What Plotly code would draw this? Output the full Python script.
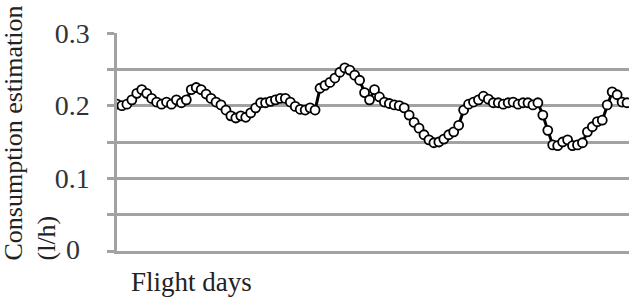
import plotly.graph_objects as go

# Consumption estimation (l/h) per flight day
consumption = [
    0.202, 0.200, 0.202, 0.208, 0.217, 0.222, 0.217, 0.210, 0.205, 0.202,
    0.205, 0.202, 0.208, 0.204, 0.208, 0.222, 0.225, 0.222, 0.216, 0.210,
    0.205, 0.201, 0.194, 0.186, 0.183, 0.186, 0.184, 0.190, 0.197, 0.204,
    0.204, 0.206, 0.208, 0.210, 0.210, 0.205, 0.199, 0.195, 0.194, 0.197,
    0.194, 0.224, 0.228, 0.232, 0.238, 0.246, 0.252, 0.249, 0.242, 0.235,
    0.218, 0.208, 0.222, 0.212, 0.205, 0.203, 0.201, 0.200, 0.197, 0.187,
    0.177, 0.169, 0.160, 0.153, 0.149, 0.150, 0.154, 0.160, 0.164, 0.173,
    0.194, 0.202, 0.205, 0.208, 0.213, 0.209, 0.204, 0.204, 0.202, 0.204,
    0.205, 0.202, 0.204, 0.204, 0.201, 0.204, 0.187, 0.166, 0.146, 0.145,
    0.150, 0.153, 0.145, 0.146, 0.149, 0.164, 0.171, 0.178, 0.180, 0.201,
    0.219, 0.215, 0.205, 0.204,
]
days = list(range(1, len(consumption) + 1))

y_tick_vals = [0, 0.05, 0.1, 0.15, 0.2, 0.25, 0.3]
y_tick_text = ["", "", "0.1", "", "0.2", "", "0.3"]
zero_label = "0"

serif = "Liberation Serif, Times New Roman, serif"
grid = "#a2a2a2"
fs = 28

fig = go.Figure()
fig.add_trace(go.Scatter(
    x=days, y=consumption, mode="lines+markers",
    line=dict(color="black", width=3),
    marker=dict(symbol="circle", size=9, color="white",
                line=dict(color="black", width=1.8)),
    showlegend=False,
))

fig.update_layout(
    width=629, height=299,
    margin=dict(l=117, r=0, t=33, b=48),
    paper_bgcolor="white", plot_bgcolor="white",
    font=dict(family=serif, color="#222", size=fs),
    xaxis=dict(range=[days[0], days[-1] + 0.4], showgrid=False,
               showticklabels=False, zeroline=False,
               showline=True, linecolor=grid, linewidth=2.5),
    yaxis=dict(range=[0, 0.3], tickvals=y_tick_vals, ticktext=y_tick_text,
               showgrid=True, gridcolor=grid, gridwidth=2.5,
               zeroline=False, showline=True, linecolor=grid, linewidth=2.5,
               ticks="outside", ticklen=7, tickcolor=grid, tickwidth=2.5,
               ticklabelstandoff=12,
               tickfont=dict(family=serif, size=fs, color="#333")),
    annotations=[
        dict(text="Consumption estimation<br>(l/h)", textangle=-90,
             xref="paper", yref="paper", x=0, y=0.539,
             xshift=-87, xanchor="center", yanchor="middle",
             align="left", showarrow=False,
             font=dict(family=serif, size=26, color="#222")),
        dict(text=zero_label, xref="paper", yref="y", x=0, y=0,
             xshift=-44, yshift=2, xanchor="center", yanchor="middle",
             showarrow=False, font=dict(family=serif, size=fs, color="#333")),
        dict(text="Flight days", xref="paper", yref="paper", x=0, y=0,
             xshift=12, yshift=-14, xanchor="left", yanchor="top",
             showarrow=False, font=dict(family=serif, size=27, color="#222")),
    ],
)

fig.write_html("out.html", config={"displayModeBar": False},
               post_script="document.body.style.margin='0';document.body.style.overflow='hidden';")
